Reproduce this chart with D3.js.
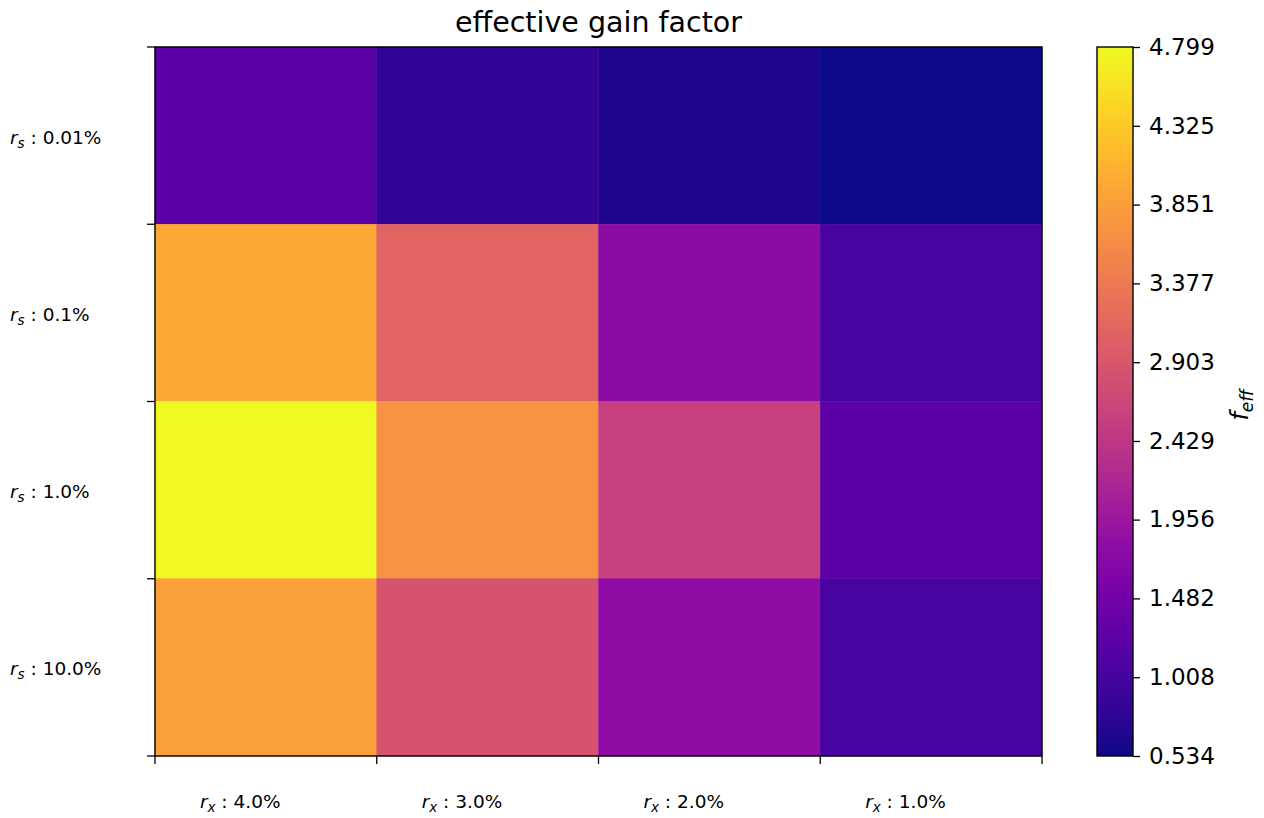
<!DOCTYPE html>
<html><head><meta charset="utf-8">
<script src="https://cdn.jsdelivr.net/npm/d3@7"></script>
<style>body{margin:0;background:#fff;font-family:"DejaVu Sans",sans-serif}</style>
</head><body><svg id="c" width="1264" height="818"></svg>
<script>
const xCats = ["4.0%", "3.0%", "2.0%", "1.0%"];
const yCats = ["0.01%", "0.1%", "1.0%", "10.0%"];
const values = [
  [1.22, 0.83, 0.66, 0.534],
  [3.95, 3.09, 1.77, 1.04],
  [4.799, 3.73, 2.58, 1.22],
  [3.86, 2.84, 1.81, 1.04]
];
const vmin = 0.534, vmax = 4.799;
const cbTicks = [0.534, 1.008, 1.482, 1.956, 2.429, 2.903, 3.377, 3.851, 4.325, 4.799];
const title = "effective gain factor";

const svg = d3.select("#c");
const L = 155, R = 1042, T = 47, B = 756;
const x = d3.scaleBand().domain(xCats).range([L, R]).padding(0);
const y = d3.scaleBand().domain(yCats).range([T, B]).padding(0);
const color = d3.scaleSequential(d3.interpolatePlasma).domain([vmin, vmax]);

const cells = [];
values.forEach((row, i) => row.forEach((v, j) => cells.push({r: yCats[i], c: xCats[j], v})));
svg.append("g").selectAll("rect").data(cells).join("rect")
  .attr("x", d => x(d.c)).attr("y", d => y(d.r))
  .attr("width", x.bandwidth()).attr("height", y.bandwidth())
  .attr("fill", d => color(d.v)).attr("stroke", d => color(d.v)).attr("stroke-width", 0.5);

// frame
svg.append("rect").attr("x", L).attr("y", T).attr("width", R - L).attr("height", B - T)
  .attr("fill", "none").attr("stroke", "#000").attr("stroke-width", 1.4);

// ticks at boundaries
const xb = xCats.map(c => x(c)).concat([R]);
const yb = yCats.map(c => y(c)).concat([B]);
svg.append("g").selectAll("line").data(xb).join("line")
  .attr("x1", d => d).attr("x2", d => d).attr("y1", B).attr("y2", B + 8)
  .attr("stroke", "#000").attr("stroke-width", 1.3);
svg.append("g").selectAll("line").data(yb).join("line")
  .attr("y1", d => d).attr("y2", d => d).attr("x1", L - 8).attr("x2", L)
  .attr("stroke", "#000").attr("stroke-width", 1.3);

// x labels
const xl = svg.append("g").selectAll("text").data(xCats).join("text")
  .attr("x", d => x(d) + x.bandwidth() / 2 - 66).attr("y", 808)
  .attr("font-size", 18.5).attr("fill", "#000");
xl.append("tspan").attr("font-style", "italic").text("r");
xl.append("tspan").attr("font-style", "italic").attr("font-size", 13.5).attr("dy", 4).text("x");
xl.append("tspan").attr("dy", -4).text(d => " : " + d);

// y labels
const yl = svg.append("g").selectAll("text").data(yCats).join("text")
  .attr("x", 10).attr("y", d => y(d) + y.bandwidth() / 2 + 8)
  .attr("font-size", 18.5).attr("fill", "#000");
yl.append("tspan").attr("font-style", "italic").text("r");
yl.append("tspan").attr("font-style", "italic").attr("font-size", 13.5).attr("dy", 4).text("s");
yl.append("tspan").attr("dy", -4).text(d => " : " + d);

// title
svg.append("text").attr("x", (L + R) / 2).attr("y", 32).attr("text-anchor", "middle")
  .attr("font-size", 28.5).text(title);

// colorbar
const cbL = 1097, cbR = 1133;
const defs = svg.append("defs");
const grad = defs.append("linearGradient").attr("id", "g").attr("x1", 0).attr("x2", 0).attr("y1", 1).attr("y2", 0);
d3.range(0, 1.0001, 0.05).forEach(t => grad.append("stop").attr("offset", t).attr("stop-color", d3.interpolatePlasma(t)));
svg.append("rect").attr("x", cbL).attr("y", T).attr("width", cbR - cbL).attr("height", B - T)
  .attr("fill", "url(#g)").attr("stroke", "#000").attr("stroke-width", 1.4);
const cy = d3.scaleLinear().domain([vmin, vmax]).range([B, T]);
const cbAxis = d3.axisRight(cy).tickValues(cbTicks).tickFormat(d3.format(".3f")).tickSize(7).tickPadding(9);
const ga = svg.append("g").attr("transform", `translate(${cbR},0)`).call(cbAxis);
ga.select(".domain").remove();
ga.selectAll("line").attr("stroke-width", 1.3);
ga.selectAll("text").attr("font-size", 23).attr("font-family", "DejaVu Sans").attr("fill", "#000");

// colorbar label
const cl = svg.append("text").attr("transform", "translate(1248,405) rotate(-90)")
  .attr("text-anchor", "middle").attr("font-size", 24).attr("font-style", "italic");
cl.append("tspan").text("f");
cl.append("tspan").attr("font-size", 17).attr("dy", 5).text("eff");
</script></body></html>
